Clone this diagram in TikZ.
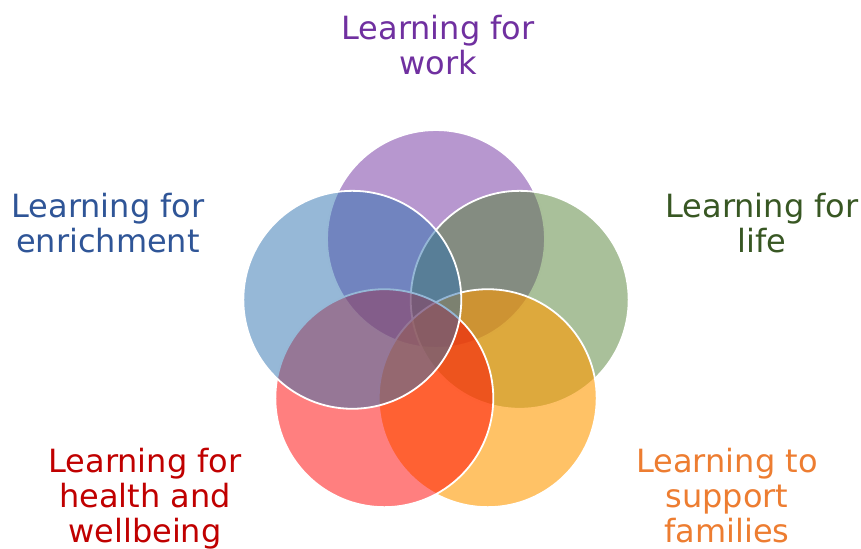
\documentclass[tikz,border=0pt]{standalone}
\usepackage{fontspec}
\setmainfont{DejaVu Sans}
\usepackage{tikz}
\pgfdeclarelayer{edgelayer}
\pgfdeclarelayer{nodelayer}
\pgfsetlayers{edgelayer,nodelayer,main}
\definecolor{workcol}{HTML}{7030A0}
\definecolor{lifecol}{HTML}{538135}
\definecolor{lifetext}{HTML}{385723}
\definecolor{familycol}{HTML}{FF9900}
\definecolor{familytext}{HTML}{ED7D31}
\definecolor{healthcol}{HTML}{FF0000}
\definecolor{healthtext}{HTML}{C00000}
\definecolor{enrichcol}{HTML}{2D71AF}
\definecolor{enrichtext}{HTML}{2F5597}
\tikzstyle{ring}=[circle,inner sep=0pt,minimum size=7.66cm,draw=white,line width=1.8pt]
\tikzstyle{work ring}=[ring,fill=workcol,fill opacity=0.5]
\tikzstyle{life ring}=[ring,fill=lifecol,fill opacity=0.5]
\tikzstyle{family ring}=[ring,fill=familycol,fill opacity=0.6]
\tikzstyle{health ring}=[ring,fill=healthcol,fill opacity=0.5]
\tikzstyle{enrich ring}=[ring,fill=enrichcol,fill opacity=0.5]
\tikzstyle{label}=[inner sep=0pt,anchor=base,align=center,font=\fontsize{32}{35}\selectfont]

\begin{document}
\begin{tikzpicture}
	\useasboundingbox (0, 0) rectangle (30.261, -19.295);
	\begin{pgfonlayer}{nodelayer}
		\node [style=work ring] (0) at (15.324, -8.4) {};
		\node [style=life ring] (1) at (18.265, -10.537) {};
		\node [style=family ring] (2) at (17.141, -13.995) {};
		\node [style=health ring] (3) at (13.507, -13.995) {};
		\node [style=enrich ring] (4) at (12.382, -10.537) {};
		\node [style=label, text=workcol] (5) at (15.394, -2.601) {Learning for\\work};
		\node [style=label, text=lifetext] (6) at (26.781, -8.892) {Learning for\\life};
		\node [style=label, text=familytext] (7) at (25.551, -19.084) {Learning to\\support\\families};
		\node [style=label, text=healthtext] (8) at (5.096, -19.084) {Learning for\\health and\\wellbeing};
		\node [style=label, text=enrichtext] (9) at (3.796, -8.892) {Learning for\\enrichment};
	\end{pgfonlayer}
\end{tikzpicture}
\end{document}
